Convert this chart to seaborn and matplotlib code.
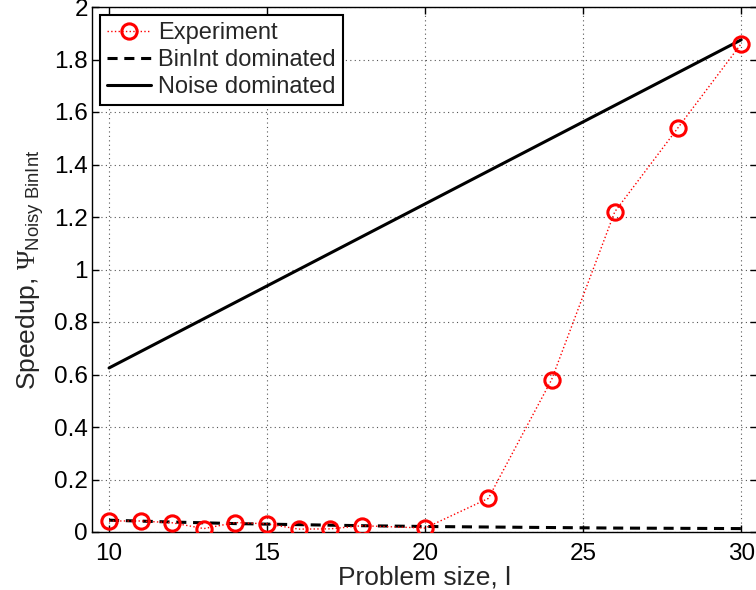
import matplotlib
matplotlib.use("Agg")
import matplotlib.pyplot as plt
import seaborn as sns
import pandas as pd

# Data
exp_x = [10, 11, 12, 13, 14, 15, 16, 17, 18, 20, 22, 24, 26, 28, 30]
exp_y = [0.042, 0.042, 0.035, 0.013, 0.036, 0.031, 0.011, 0.012, 0.024, 0.015,
         0.128, 0.58, 1.22, 1.54, 1.86]

binint_x = [10, 12, 14, 16, 18, 20, 22, 24, 26, 28, 30]
binint_y = [0.045, 0.038, 0.032, 0.028, 0.024, 0.021, 0.019, 0.017, 0.015, 0.014, 0.013]

noise_x = [10, 15, 20, 25, 30]
noise_y = [0.625, 0.9375, 1.25, 1.5625, 1.875]

x_ticks = [10, 15, 20, 25, 30]
y_ticks = [0, 0.2, 0.4, 0.6, 0.8, 1.0, 1.2, 1.4, 1.6, 1.8, 2.0]
y_tick_labels = ["0", "0.2", "0.4", "0.6", "0.8", "1", "1.2", "1.4", "1.6", "1.8", "2"]

sns.set_style("white")
plt.rcParams['font.family'] = ['Liberation Sans', 'DejaVu Sans']
plt.rcParams['mathtext.fontset'] = 'custom'
plt.rcParams['mathtext.rm'] = 'Liberation Sans'
plt.rcParams['mathtext.it'] = 'Liberation Sans:italic'
plt.rcParams['mathtext.sf'] = 'Liberation Serif'

fig = plt.figure(figsize=(7.56, 5.90), dpi=100)
W, H = 756, 590
left, right, bottom, top = 92, 757, 532, 7
ax = fig.add_axes([left / W, (H - bottom) / H, (right - left) / W, (bottom - top) / H])

df_exp = pd.DataFrame({"x": exp_x, "y": exp_y})
df_bin = pd.DataFrame({"x": binint_x, "y": binint_y})
df_noise = pd.DataFrame({"x": noise_x, "y": noise_y})

sns.lineplot(data=df_exp, x="x", y="y", ax=ax, color="red", linestyle=":",
             linewidth=1.0, marker="o", markersize=11, markerfacecolor="none",
             markeredgecolor="red", markeredgewidth=2.2, label="Experiment", zorder=4)
sns.lineplot(data=df_bin, x="x", y="y", ax=ax, color="black", linestyle=(0, (3.3, 2.2)),
             linewidth=2.2, label="BinInt dominated", zorder=3)
sns.lineplot(data=df_noise, x="x", y="y", ax=ax, color="black", linestyle="-",
             linewidth=2.2, label="Noise dominated", zorder=3)

ax.set_xlim(9.46, 30.5)
ax.set_ylim(0, 2)
ax.set_xticks(x_ticks)
ax.set_yticks(y_ticks)
ax.set_yticklabels(y_tick_labels)
ax.tick_params(direction="in", length=5, width=1, labelsize=17.5,
               top=True, right=True, bottom=True, left=True, colors="black")
ax.tick_params(axis="y", pad=3)
ax.tick_params(axis="x", pad=8)
ax.grid(True, linestyle=(0, (1, 3)), color="#555555", linewidth=0.8)
for s in ax.spines.values():
    s.set_color("black")
    s.set_linewidth(1.0)

ax.set_xlabel("Problem size, l", fontsize=19, labelpad=0)
ax.set_ylabel(r"Speedup, $\mathsf{\Psi}_{\mathregular{Noisy\ BinInt}}$", fontsize=19, labelpad=6)

leg = ax.legend(loc="upper left", fontsize=17, frameon=True, fancybox=False,
                edgecolor="black", framealpha=1, borderpad=0.3, labelspacing=0.2,
                handlelength=1.85, handletextpad=0.3, borderaxespad=0.35)
leg.get_frame().set_linewidth(1.5)

fig.savefig("out.png", dpi=100)
